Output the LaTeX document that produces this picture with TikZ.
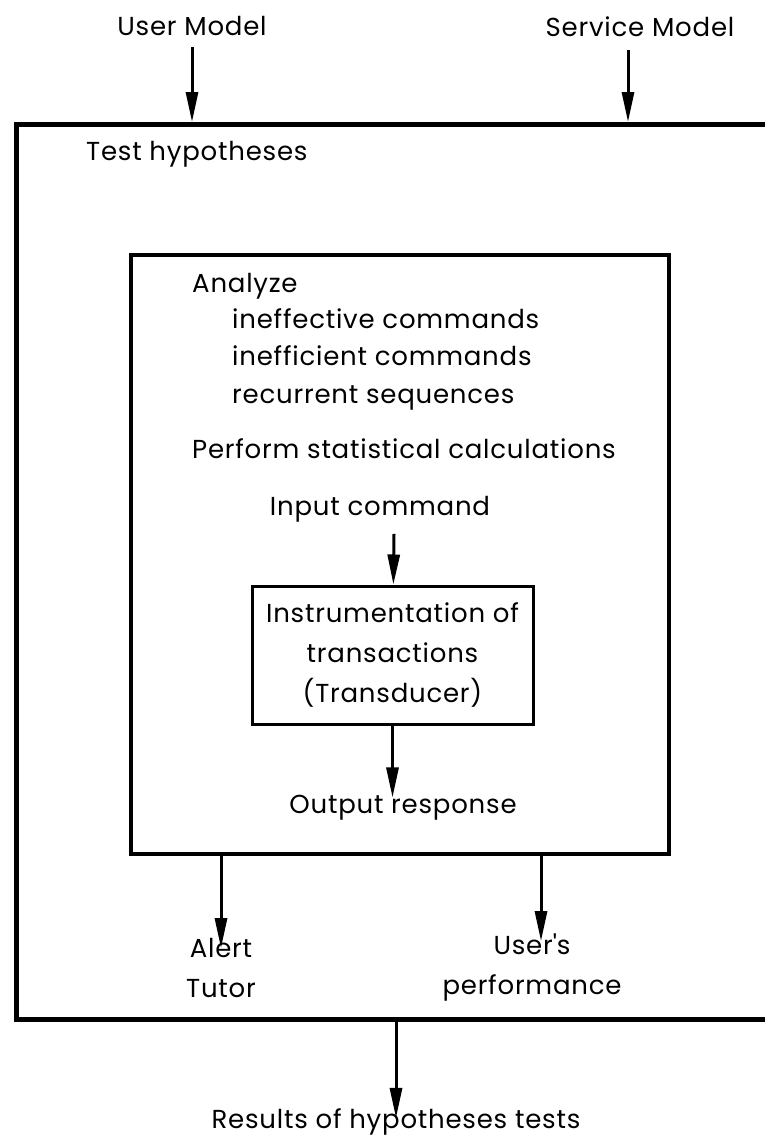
\documentclass[tikz,border=0pt]{standalone}
\usepackage{fontspec}
\setmainfont{Poppins}[LetterSpace=3]
\usetikzlibrary{arrows.meta,positioning}

\begin{document}
\begin{tikzpicture}[x=1pt,y=-1pt,
    txt/.style={inner sep=0pt,font=\fontsize{26}{40}\selectfont},
    frame/.style={draw,line width=#1,inner sep=0pt},
    flow/.style={-{Triangle[length=30pt,width=12pt]},line width=3pt}]
  \clip (0,0) rectangle (765,1135);
  % boxes
  \node[frame=5pt,anchor=north west,minimum width=790pt,minimum height=895pt] (outer) at (14,122) {};
  \node[frame=4pt,anchor=north west,minimum width=538pt,minimum height=599pt] (inner) at (129,253) {};
  \node[frame=3pt,txt,align=center,minimum width=281pt,minimum height=138pt] (trans) at (392.5,655)
      {Instrumentation of\\transactions\\(Transducer)};
  % inputs
  \node[txt,anchor=base] (usermodel) at (192,35) {User Model};
  \node[txt,anchor=base] (servicemodel) at (640,36) {Service Model};
  \node[txt,anchor=base west] (testhyp) at (86,160) {Test hypotheses};
  % analysis
  \node[txt,anchor=base west] (analyze) at (192,292) {Analyze};
  \node[txt,anchor=base west] (ineffective) at (232,328) {ineffective commands};
  \node[txt,anchor=base west] (inefficient) at (232,365) {inefficient commands};
  \node[txt,anchor=base west] (recurrent) at (232,403) {recurrent sequences};
  \node[txt,anchor=base west] (perform) at (192,458) {Perform statistical calculations};
  \node[txt,anchor=base] (incmd) at (380,515) {Input command};
  \node[txt,anchor=base] (outresp) at (403,813) {Output response};
  % outputs
  \node[txt,align=center] (alert) at (221,968) {Alert\\Tutor};
  \node[txt,align=center] (perf) at (532,968) {User\textquotesingle s\\performance};
  \node[txt,anchor=base] (results) at (396,1128) {Results of hypotheses tests};
  % arrows
  \draw[flow] ([yshift=-12pt]usermodel.south) -- (usermodel.south |- outer.north);
  \draw[flow] ([xshift=-12pt,yshift=-14pt]servicemodel.south) -- ([xshift=-12pt]servicemodel.south |- outer.north);
  \draw[flow] ([xshift=14pt,yshift=-12pt]incmd.south) -- (trans);
  \draw[flow] (trans) -- ([yshift=-3pt]trans.south |- outresp.north);
  \draw[flow] (inner.south -| alert) -- ([yshift=-10pt]alert.north);
  \draw[flow] ([xshift=9pt]inner.south -| perf) -- ([xshift=9pt,yshift=-7pt]perf.north);
  \draw[flow] (outer.south -| results) -- ([yshift=-10pt]results.north);
\end{tikzpicture}
\end{document}
